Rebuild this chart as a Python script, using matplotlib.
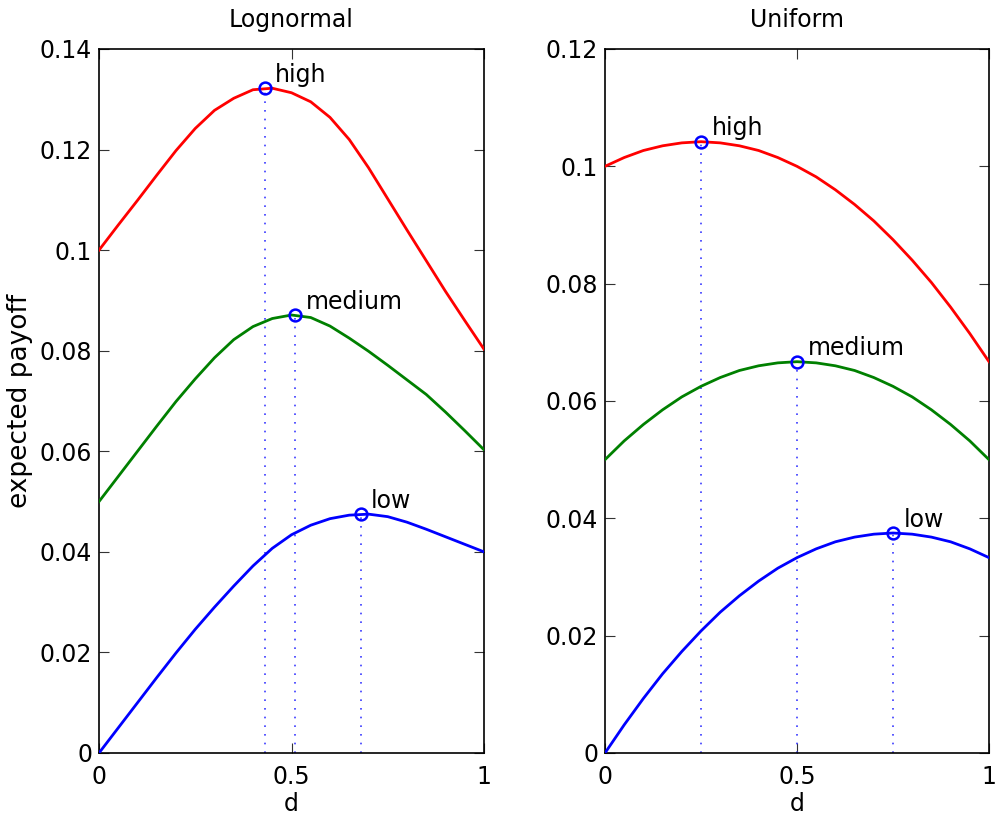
import matplotlib
matplotlib.use("Agg")
import matplotlib.pyplot as plt

plt.rcParams['font.family'] = ['DejaVu Sans']

# ---- data ----
d = [0.00, 0.05, 0.10, 0.15, 0.20, 0.25, 0.30, 0.35, 0.40, 0.45, 0.50,
     0.55, 0.60, 0.65, 0.70, 0.75, 0.80, 0.85, 0.90, 0.95, 1.00]

logn_high = [0.1000, 0.1050, 0.1099, 0.1149, 0.1198, 0.1242, 0.1278, 0.1302,
             0.1319, 0.1322, 0.1313, 0.1295, 0.1264, 0.1220, 0.1164, 0.1102,
             0.1040, 0.0979, 0.0918, 0.0860, 0.0803]
logn_medium = [0.0500, 0.0550, 0.0600, 0.0650, 0.0699, 0.0744, 0.0786, 0.0822,
               0.0848, 0.0864, 0.0871, 0.0866, 0.0849, 0.0825, 0.0799, 0.0771,
               0.0742, 0.0713, 0.0678, 0.0641, 0.0603]
logn_low = [0.0000, 0.0050, 0.0100, 0.0150, 0.0199, 0.0246, 0.0290, 0.0332,
            0.0372, 0.0407, 0.0434, 0.0453, 0.0466, 0.0473, 0.0475, 0.0470,
            0.0459, 0.0445, 0.0430, 0.0415, 0.0400]

unif_high = [0.1000, 0.1015, 0.1027, 0.1035, 0.1040, 0.1042, 0.1040, 0.1035,
             0.1027, 0.1015, 0.1000, 0.0982, 0.0960, 0.0935, 0.0907, 0.0875,
             0.0840, 0.0802, 0.0760, 0.0715, 0.0667]
unif_medium = [0.0500, 0.0532, 0.0560, 0.0585, 0.0607, 0.0625, 0.0640, 0.0652,
               0.0660, 0.0665, 0.0667, 0.0665, 0.0660, 0.0652, 0.0640, 0.0625,
               0.0607, 0.0585, 0.0560, 0.0532, 0.0500]
unif_low = [0.0000, 0.0048, 0.0093, 0.0135, 0.0173, 0.0208, 0.0240, 0.0268,
            0.0293, 0.0315, 0.0333, 0.0348, 0.0360, 0.0368, 0.0373, 0.0375,
            0.0373, 0.0368, 0.0360, 0.0348, 0.0333]

labels = ["high", "medium", "low"]
logn_peak_d = [0.43, 0.51, 0.68]
logn_peak_v = [0.1322, 0.0871, 0.0475]
unif_peak_d = [0.25, 0.50, 0.75]
unif_peak_v = [0.1042, 0.0667, 0.0375]

titles = ["Lognormal", "Uniform"]
x_ticks = [0, 0.5, 1]
x_ticklabels = ["0", "0.5", "1"]
logn_yticks = [0, 0.02, 0.04, 0.06, 0.08, 0.1, 0.12, 0.14]
logn_yticklabels = ["0", "0.02", "0.04", "0.06", "0.08", "0.1", "0.12", "0.14"]
unif_yticks = [0, 0.02, 0.04, 0.06, 0.08, 0.1, 0.12]
unif_yticklabels = ["0", "0.02", "0.04", "0.06", "0.08", "0.1", "0.12"]

colors = ["#ff0000", "#008000", "#0000ff"]

fig = plt.figure(figsize=(9.96, 8.17), dpi=100)
W, H = 996, 817
ax1 = fig.add_axes([99 / W, (H - 753) / H, 385 / W, 704 / H])
ax2 = fig.add_axes([605 / W, (H - 753) / H, 384 / W, 704 / H])

panels = [
    (ax1, [logn_high, logn_medium, logn_low], logn_peak_d, logn_peak_v,
     logn_yticks, logn_yticklabels, 0.14),
    (ax2, [unif_high, unif_medium, unif_low], unif_peak_d, unif_peak_v,
     unif_yticks, unif_yticklabels, 0.12),
]

FS = 17
for i, (ax, series, pk_d, pk_v, yt, ytl, ymax) in enumerate(panels):
    for s, c in zip(series, colors):
        ax.plot(d, s, color=c, lw=2.0, zorder=3, solid_joinstyle='round')
    for pdv, pvv, lab in zip(pk_d, pk_v, labels):
        ax.plot([pdv, pdv], [0, pvv], color="#3a3aff", lw=1.2,
                linestyle=(0, (1.0, 4.2)), zorder=2)
        ax.plot([pdv], [pvv], marker='o', markersize=8.5, mfc='none',
                mec="#0000ff", mew=1.8, zorder=4, linestyle='none')
        ax.annotate(lab, xy=(pdv, pvv), xytext=(7.5, 4.5),
                    textcoords='offset points', ha='left', va='baseline',
                    fontsize=FS)
    ax.set_xlim(0, 1)
    ax.set_ylim(0, ymax)
    ax.set_xticks(x_ticks)
    ax.set_xticklabels(x_ticklabels)
    ax.set_yticks(yt)
    ax.set_yticklabels(ytl)
    ax.tick_params(axis='both', direction='in', length=7, width=0.8,
                   top=True, right=True, labelsize=FS, color='#333333')
    ax.tick_params(axis='x', pad=9)
    ax.tick_params(axis='y', pad=5)
    for sp in ax.spines.values():
        sp.set_linewidth(1.2)
        sp.set_color('black')
    ax.set_title(titles[i], fontsize=FS, pad=16)
    ax.set_xlabel("d", fontsize=FS, labelpad=2)

ax1.set_ylabel("expected payoff", fontsize=19, labelpad=5)

fig.savefig("out.png", dpi=100)
